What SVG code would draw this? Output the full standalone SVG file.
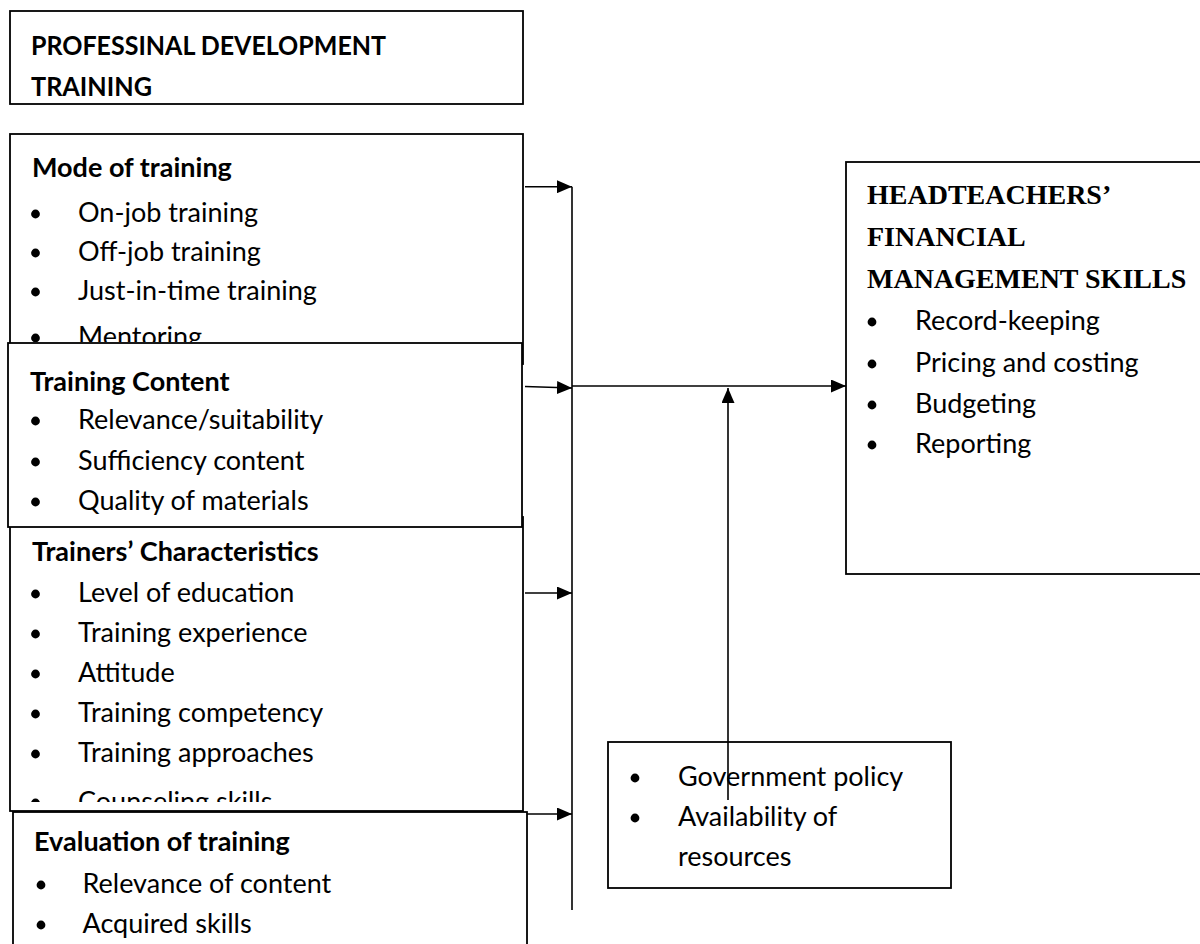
<svg xmlns="http://www.w3.org/2000/svg" width="1200" height="944" viewBox="0 0 1200 944">
  <style>
    .box { fill: #ffffff; stroke: #000000; stroke-width: 1.8; }
    .sans { font-family: Lato, "Open Sans", "Liberation Sans", sans-serif; font-size: 27px; fill: #000000; }
    .bold { font-weight: bold; }
    .serif { font-family: "Liberation Serif", "Times New Roman", serif; font-size: 28px; font-weight: bold; fill: #000000; }
    .dot { fill: #000000; }
    .wire { fill: none; stroke: #000000; stroke-width: 1.6; }
  </style>
  <defs>
    <marker id="head" viewBox="0 0 15 13" refX="15" refY="6.5" markerWidth="15" markerHeight="13" markerUnits="userSpaceOnUse" orient="auto">
      <path d="M0,0 L15,6.5 L0,13 Z" fill="#000000"/>
    </marker>
    <!-- text areas: overflowing lines are cut at the inner margin -->
    <clipPath id="modeClip"><rect x="10" y="134" width="513" height="208"/></clipPath>
    <clipPath id="trainersClip"><rect x="10" y="517" width="513" height="285"/></clipPath>
  </defs>

  <rect x="0" y="0" width="1200" height="944" fill="#ffffff"/>

  <!-- Title -->
  <g id="title">
    <rect class="box" x="10" y="11" width="513" height="93"/>
    <text class="sans bold" x="31" y="55" textLength="355" lengthAdjust="spacingAndGlyphs">PROFESSINAL DEVELOPMENT</text>
    <text class="sans bold" x="31" y="96" textLength="121" lengthAdjust="spacingAndGlyphs">TRAINING</text>
  </g>

  <!-- Mode of training (lower part hidden by the next box) -->
  <g id="mode">
    <rect class="box" x="10" y="134" width="513" height="230"/>
    <g clip-path="url(#modeClip)">
      <text class="sans bold" x="32" y="177">Mode of training</text>
      <circle class="dot" cx="35.5" cy="214" r="4.4"/>
      <text class="sans" x="78" y="222">On-job training</text>
      <circle class="dot" cx="35.5" cy="253" r="4.4"/>
      <text class="sans" x="78" y="261">Off-job training</text>
      <circle class="dot" cx="35.5" cy="292" r="4.4"/>
      <text class="sans" x="78" y="300">Just-in-time training</text>
      <circle class="dot" cx="35.5" cy="338" r="4.4"/>
      <text class="sans" x="78" y="346">Mentoring</text>
    </g>
  </g>

  <!-- Trainers' characteristics (top edge sits under the content box) -->
  <g id="trainers">
    <rect class="box" x="10" y="517" width="513" height="294"/>
    <g clip-path="url(#trainersClip)">
      <text class="sans bold" x="32" y="561">Trainers’ Characteristics</text>
      <circle class="dot" cx="35.5" cy="594" r="4.4"/>
      <text class="sans" x="78" y="602">Level of education</text>
      <circle class="dot" cx="35.5" cy="634" r="4.4"/>
      <text class="sans" x="78" y="642">Training experience</text>
      <circle class="dot" cx="35.5" cy="674" r="4.4"/>
      <text class="sans" x="78" y="682">Attitude</text>
      <circle class="dot" cx="35.5" cy="714" r="4.4"/>
      <text class="sans" x="78" y="722">Training competency</text>
      <circle class="dot" cx="35.5" cy="754" r="4.4"/>
      <text class="sans" x="78" y="762">Training approaches</text>
      <circle class="dot" cx="35.5" cy="803" r="4.4"/>
      <text class="sans" x="78" y="811">Counseling skills</text>
    </g>
  </g>

  <!-- Training content -->
  <g id="content">
    <rect class="box" x="8" y="343" width="514" height="184"/>
    <text class="sans bold" x="30" y="391">Training Content</text>
    <circle class="dot" cx="35.5" cy="421" r="4.4"/>
    <text class="sans" x="78" y="429">Relevance/suitability</text>
    <circle class="dot" cx="35.5" cy="462" r="4.4"/>
    <text class="sans" x="78" y="470">Sufficiency content</text>
    <circle class="dot" cx="35.5" cy="502" r="4.4"/>
    <text class="sans" x="78" y="510">Quality of materials</text>
  </g>

  <!-- Evaluation of training (runs past the bottom edge) -->
  <g id="evaluation">
    <rect class="box" x="13" y="812" width="514" height="160"/>
    <text class="sans bold" x="34" y="851">Evaluation of training</text>
    <circle class="dot" cx="41" cy="885" r="4.4"/>
    <text class="sans" x="82.5" y="893">Relevance of content</text>
    <circle class="dot" cx="41" cy="925" r="4.4"/>
    <text class="sans" x="82.5" y="933">Acquired skills</text>
  </g>

  <!-- Outcome -->
  <g id="skills">
    <rect class="box" x="846" y="162" width="370" height="412"/>
    <text class="serif" x="867" y="204">HEADTEACHERS’</text>
    <text class="serif" x="867" y="246">FINANCIAL</text>
    <text class="serif" x="867" y="288">MANAGEMENT SKILLS</text>
    <circle class="dot" cx="872" cy="322" r="4.4"/>
    <text class="sans" x="915" y="330">Record-keeping</text>
    <circle class="dot" cx="872" cy="364" r="4.4"/>
    <text class="sans" x="915" y="372">Pricing and costing</text>
    <circle class="dot" cx="872" cy="405" r="4.4"/>
    <text class="sans" x="915" y="413">Budgeting</text>
    <circle class="dot" cx="872" cy="445" r="4.4"/>
    <text class="sans" x="915" y="453">Reporting</text>
  </g>

  <!-- Intervening factors -->
  <g id="factors">
    <rect class="box" x="608" y="742" width="343" height="146"/>
    <circle class="dot" cx="635" cy="778" r="4.4"/>
    <text class="sans" x="678" y="786">Government policy</text>
    <circle class="dot" cx="635" cy="818" r="4.4"/>
    <text class="sans" x="678" y="826">Availability of</text>
    <text class="sans" x="678" y="866">resources</text>
  </g>

  <!-- Connectors -->
  <g id="connectors">
    <line class="wire" x1="525" y1="186.7" x2="572" y2="186.7" marker-end="url(#head)"/>
    <line class="wire" x1="525" y1="386.5" x2="572" y2="388" marker-end="url(#head)"/>
    <line class="wire" x1="525" y1="593" x2="572" y2="593" marker-end="url(#head)"/>
    <line class="wire" x1="527" y1="814" x2="572" y2="814" marker-end="url(#head)"/>
    <line class="wire" x1="572" y1="186.7" x2="572" y2="910"/>
    <line class="wire" x1="572" y1="386" x2="846" y2="386" marker-end="url(#head)"/>
    <line class="wire" x1="728" y1="800" x2="728" y2="388" marker-end="url(#head)"/>
  </g>
</svg>
